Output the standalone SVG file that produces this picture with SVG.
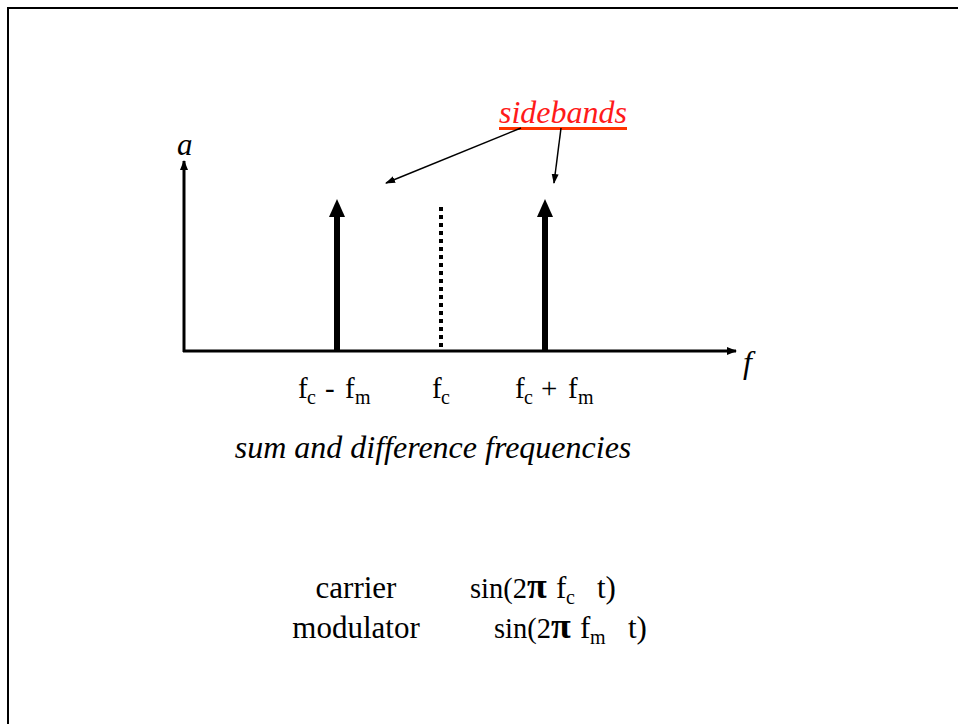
<svg xmlns="http://www.w3.org/2000/svg" width="958" height="724" viewBox="0 0 958 724">
<style>
text{font-family:"Liberation Serif","Times New Roman",serif;fill:#000}
.it{font-style:italic}
.lbl{font-size:29px}
.sub{font-size:20px}
.fs{font-size:31px}
.sn{font-size:28.5px}
.pi{font-size:36px;font-weight:bold}
.ax{stroke:#000;stroke-width:3;fill:none}
.thin{stroke:#000;stroke-width:1.5;fill:none}
</style>
<defs>
<marker id="ah" markerWidth="10" markerHeight="10" refX="9" refY="5" orient="auto" markerUnits="userSpaceOnUse" viewBox="0 0 10 10">
<path d="M0,1 L10,5 L0,9 z" fill="#000"/>
</marker>
<marker id="ahs" markerWidth="10" markerHeight="8" refX="9" refY="4" orient="auto" markerUnits="userSpaceOnUse" viewBox="0 0 10 8">
<path d="M0,0.5 L10,4 L0,7.5 z" fill="#000"/>
</marker>
</defs>
<rect width="958" height="724" fill="#fff"/>
<path d="M8 724 V8 H958" fill="none" stroke="#000" stroke-width="2"/>
<g id="axes">
<line class="ax" x1="184" y1="352" x2="184" y2="161" marker-end="url(#ah)"/>
<line class="ax" x1="183" y1="351" x2="736" y2="351" marker-end="url(#ah)"/>
<text class="it" x="177" y="155" font-size="31">a</text>
<text class="it" x="743" y="373" font-size="32">f</text>
</g>
<g id="lower-sideband">
<rect x="334" y="214" width="6" height="138" fill="#000"/>
<path d="M329 217 L337 199 L345 217 z" fill="#000"/>
<text class="lbl" y="398"><tspan x="298">f</tspan><tspan class="sub" x="307" dy="6">c</tspan><tspan x="325" dy="-6">-</tspan><tspan x="345">f</tspan><tspan class="sub" x="355" dy="6">m</tspan></text>
</g>
<g id="carrier">
<line x1="441" y1="207" x2="441" y2="349" stroke="#000" stroke-width="4" stroke-dasharray="4 4"/>
<text class="lbl" y="398"><tspan x="432">f</tspan><tspan class="sub" x="441" dy="6">c</tspan></text>
</g>
<g id="upper-sideband">
<rect x="542" y="214" width="6" height="138" fill="#000"/>
<path d="M537 217 L545 199 L553 217 z" fill="#000"/>
<text class="lbl" y="398"><tspan x="515">f</tspan><tspan class="sub" x="524" dy="6">c</tspan><tspan x="541" dy="-6">+</tspan><tspan x="568">f</tspan><tspan class="sub" x="578" dy="6">m</tspan></text>
</g>
<g id="sidebands-label">
<text class="it" x="563" y="123" font-size="32" text-anchor="middle" style="fill:#ff1a1a">sidebands</text>
<rect x="499" y="127" width="128" height="3" fill="#ff3300"/>
</g>
<g id="connectors">
<line class="thin" x1="521" y1="128" x2="386" y2="183" marker-end="url(#ahs)"/>
<line class="thin" x1="561" y1="128" x2="554" y2="183" marker-end="url(#ahs)"/>
</g>
<g id="caption">
<text class="it" x="433" y="458" font-size="32" text-anchor="middle">sum and difference frequencies</text>
</g>
<g id="formulas">
<text class="fs" x="356" y="598" text-anchor="middle">carrier</text>
<text class="fs" y="598"><tspan class="sn" x="470">sin(2</tspan><tspan class="pi">π</tspan><tspan x="556">f</tspan><tspan class="sub" x="566" dy="6">c</tspan><tspan x="597" dy="-6">t)</tspan></text>
<text class="fs" x="356" y="638" text-anchor="middle">modulator</text>
<text class="fs" y="638"><tspan class="sn" x="494">sin(2</tspan><tspan class="pi">π</tspan><tspan x="580">f</tspan><tspan class="sub" x="590" dy="6">m</tspan><tspan x="628" dy="-6">t)</tspan></text>
</g>
</svg>
